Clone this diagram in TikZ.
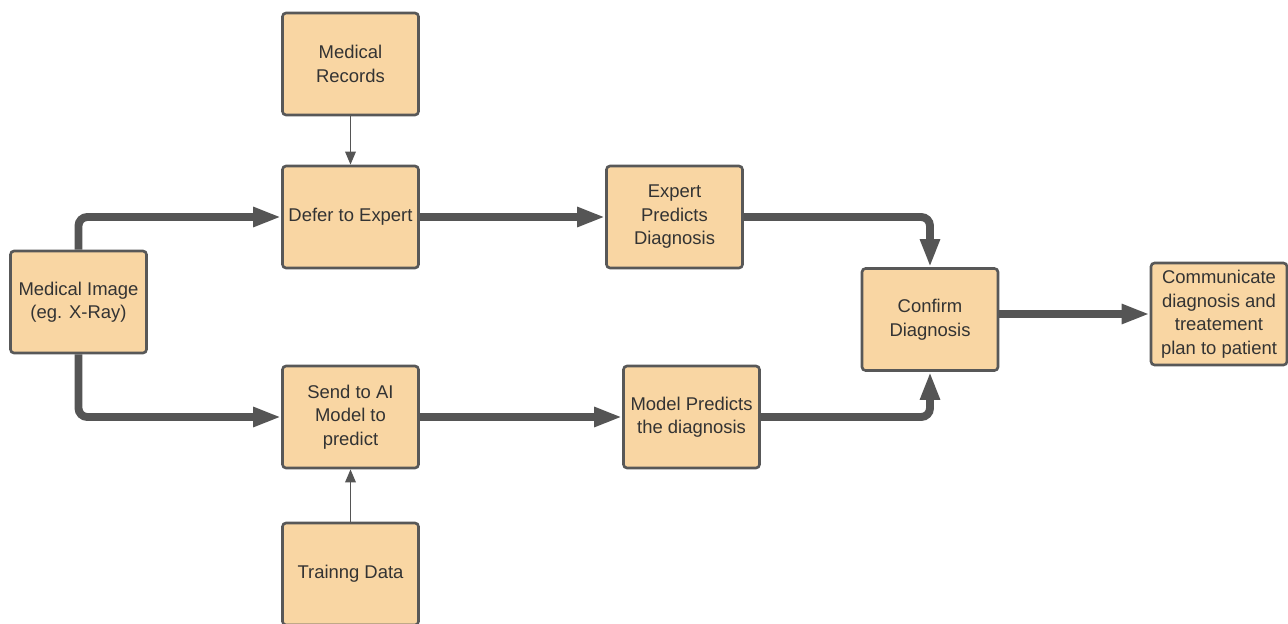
\documentclass[tikz,border=0pt]{standalone}
\usepackage{fontspec}
\setmainfont{Liberation Sans}
\usetikzlibrary{arrows.meta}

\definecolor{boxfill}{HTML}{F9D6A3}
\definecolor{boxline}{HTML}{585858}
\definecolor{flowline}{HTML}{555555}
\definecolor{boxtext}{HTML}{333333}

\begin{document}
\begin{tikzpicture}[x=0.02cm,y=-0.02cm,
		step box/.style={draw=boxline,fill=boxfill,line width=1.5pt,rounded corners=2pt,
			minimum width=2.72cm,minimum height=2.04cm,align=center,text=boxtext,
			font=\fontsize{10.5}{13.4}\selectfont},
		main flow/.style={draw=flowline,line width=4.5pt,rounded corners=5pt,
			-{Triangle[length=16pt,width=10.5pt]}},
		side flow/.style={draw=flowline,line width=1.1pt,
			-{Triangle[length=7.5pt,width=6pt]}}]
	\useasboundingbox (0,0) rectangle (1288,623);

	\node[step box] (img)     at (78.5 , 302)   {Medical Image\\(eg. X-Ray)};
	\node[step box] (rec)     at (350.5, 64)    {Medical\\Records};
	\node[step box] (defer)   at (350.5, 217)   {Defer to Expert};
	\node[step box] (send)    at (350.5, 417)   {Send to AI\\Model to\\predict};
	\node[step box] (train)   at (350.5, 574)   {Trainng Data};
	\node[step box] (expert)  at (674.5, 217)   {Expert\\Predicts\\Diagnosis};
	\node[step box] (model)   at (691.5, 417)   {Model Predicts\\the diagnosis};
	\node[step box] (confirm) at (930  , 319.5) {Confirm\\Diagnosis};
	\node[step box] (comm)    at (1219 , 314)   {Communicate\\diagnosis and\\treatement\\plan to patient};

	\def\inputs {rec/defer, train/send}  % thin arrows into the boxes
	\foreach \u\v in \inputs
	{	\draw[side flow] (\u) -- (\v);
	}
	\def\split {img.north/defer.west, img.south/send.west}  % out of the image
	\foreach \u\v in \split
	{	\draw[main flow] (\u) |- (\v);
	}
	\def\straight {defer/expert, send/model}
	\foreach \u\v in \straight
	{	\draw[main flow] (\u) -- (\v);
	}
	\def\merge {expert.east/confirm.north, model.east/confirm.south}  % into confirm
	\foreach \u\v in \merge
	{	\draw[main flow] (\u) -| (\v);
	}
	\draw[main flow] (confirm.east |- comm.west) -- (comm.west);
\end{tikzpicture}
\end{document}
